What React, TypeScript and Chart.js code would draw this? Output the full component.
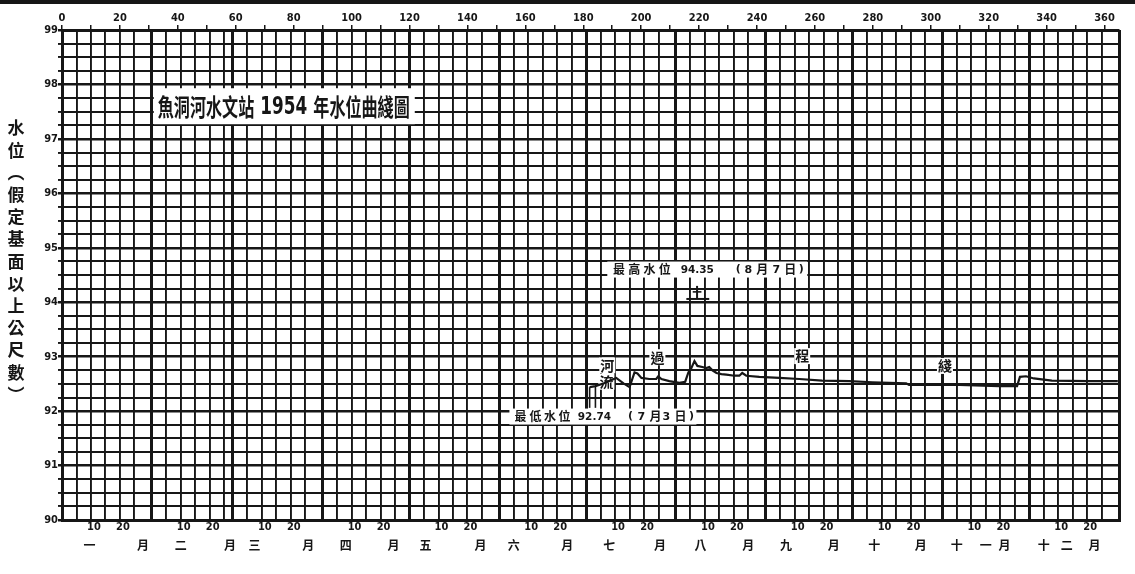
import React, { useEffect, useRef } from 'react';
import { Chart, registerables } from 'chart.js';

Chart.register(...registerables);

// ---------- data ----------
const monthStarts = [0, 31, 59, 90, 120, 151, 181, 212, 243, 273, 304, 334, 365];
const monthNames = ['一', '二', '三', '四', '五', '六', '七', '八', '九', '十', '十一', '十二'];
const topTickLabels = ['0', '20', '40', '60', '80', '100', '120', '140', '160', '180', '200', '220', '240', '260', '280', '300', '320', '340', '360'];
const yTickLabels = ['90', '91', '92', '93', '94', '95', '96', '97', '98', '99'];
const dayTickLabels = ['10', '20'];

// day of year (0 = 1 Jan) and water level (m)
const levelDays = [182.2, 184.2, 187.7, 189.7, 191.4, 193.9, 196.0, 197.7, 198.7, 200.1, 202.8, 205.2, 205.9, 207.0, 209.7, 213.2, 215.2, 216.3, 217.3, 218.4, 219.4, 221.1, 222.5, 223.5, 224.6, 226.0, 227.7, 229.4, 232.2, 233.9, 234.9, 236.3, 240.8, 247.7, 254.6, 262.5, 271.8, 279.8, 291.5, 292.5, 309.8, 323.6, 329.8, 330.8, 332.9, 335.6, 341.8, 354.6, 364.6];
const levelValues = [92.44, 92.46, 92.52, 92.57, 92.61, 92.51, 92.44, 92.71, 92.69, 92.61, 92.59, 92.59, 92.64, 92.59, 92.55, 92.52, 92.54, 92.71, 92.79, 92.92, 92.83, 92.81, 92.79, 92.81, 92.75, 92.7, 92.68, 92.67, 92.65, 92.65, 92.7, 92.65, 92.63, 92.61, 92.59, 92.56, 92.55, 92.53, 92.51, 92.48, 92.48, 92.46, 92.46, 92.63, 92.64, 92.6, 92.56, 92.55, 92.55];

const lowLeaderADays = [182.2, 182.2];
const lowLeaderAValues = [92.06, 92.44];
const lowLeaderBDays = [184.2, 184.2];
const lowLeaderBValues = [92.06, 92.46];

const peakBarDays = [215.6, 223.5];
const peakBarValues = [94.06, 94.06];
const peakStemDays = [219.3, 219.3];
const peakStemValues = [94.06, 94.3];
const peakCrossDays = [217.8, 220.8];
const peakCrossValues = [94.19, 94.19];

const titleParts = ['魚洞河水文站', '1954', '年水位曲綫圖'];
const titleDay = 31;
const titleLevel = 97.6;

const yAxisTitle = ['水', '位', '︵', '假', '定', '基', '面', '以', '上', '公', '尺', '數', '︶'];

const highLabel = { name: '最高水位', value: '94.35', month: '8', day: '7' };
const highLabelDay = 188.3;
const highLabelLevel = 94.6;
const lowLabel = { name: '最低水位', value: '92.74', month: '7', day: '3' };
const lowLabelDay = 154.5;
const lowLabelLevel = 91.9;

const curveChars = ['河', '流', '過', '程', '綫'];
const curveCharDays = [188.3, 188.0, 205.6, 255.6, 304.9];
const curveCharValues = [92.84, 92.54, 92.99, 93.01, 92.83];

// ---------- styling / layout ----------
const CJK = "'Noto Sans CJK TC', 'Noto Sans CJK SC', sans-serif";
const NUM = "'DejaVu Sans Condensed', 'DejaVu Sans', sans-serif";
const INK = '#161616';

// where (in days after the month's start) the month name glyphs sit
const monthNameOffsets = [[9.5], [10], [7.5], [8], [5.5], [5], [8], [8.5], [7], [7.5], [5, 15], [5, 13]];
const monthYueOffsets = [28, 27, 26, 24.5, 24.5, 23.5, 25.5, 25, 23.5, 23.5, 21.5, 22.5];

type Lbl = { name: string; value: string; month: string; day: string };
type Lay = { names: number[]; value: number; open: number; month: number; yue: number; day: number; ri: number; close: number; width: number };

function drawLabelBox(ctx: CanvasRenderingContext2D, left: number, yc: number, lbl: Lbl, layout: Lay) {
  ctx.fillStyle = INK;
  ctx.textAlign = 'center';
  ctx.textBaseline = 'middle';
  ctx.font = `bold 12px ${CJK}`;
  lbl.name.split('').forEach((c, i) => ctx.fillText(c, left + layout.names[i], yc));
  ctx.font = `bold 10.5px 'DejaVu Sans', sans-serif`;
  ctx.fillText(lbl.value, left + layout.value, yc + 1);
  ctx.font = `bold 11px 'DejaVu Sans', sans-serif`;
  ctx.fillText('(', left + layout.open, yc);
  ctx.fillText(lbl.month, left + layout.month, yc + 1);
  ctx.fillText(lbl.day, left + layout.day, yc + 1);
  ctx.fillText(')', left + layout.close, yc);
  ctx.font = `bold 12px ${CJK}`;
  ctx.fillText('月', left + layout.yue, yc);
  ctx.fillText('日', left + layout.ri, yc);
}

const highLayout: Lay = { names: [11.6, 26.9, 42.1, 57.4], value: 90, open: 131, month: 141, yue: 155, day: 169, ri: 183, close: 194, width: 200 };
const lowLayout: Lay = { names: [11, 26, 40.5, 55], value: 85, open: 121, month: 132, yue: 146, day: 157, ri: 171, close: 182, width: 187 };

const TITLE_WIDTH = 252;

function titleMetrics(ctx: CanvasRenderingContext2D) {
  ctx.font = `bold 21px ${CJK}`;
  const w1 = ctx.measureText(titleParts[0]).width;
  const w3 = ctx.measureText(titleParts[2]).width;
  ctx.font = `bold 22px 'DejaVu Sans', sans-serif`;
  const w2 = ctx.measureText(titleParts[1]).width;
  const gap = 8;
  const natural = w1 + gap + w2 + gap + w3;
  return { w1, w2, w3, gap, sx: TITLE_WIDTH / natural };
}

const annotPlugin = {
  id: 'annot',
  beforeDraw(chart: any) {
    const ctx = chart.ctx as CanvasRenderingContext2D;
    ctx.save();
    ctx.fillStyle = '#ffffff';
    ctx.fillRect(0, 0, chart.width, chart.height);
    ctx.restore();
  },
  beforeDatasetsDraw(chart: any) {
    const ctx = chart.ctx as CanvasRenderingContext2D;
    const x = chart.scales.x;
    const y = chart.scales.y;
    ctx.save();
    ctx.fillStyle = '#ffffff';
    const tl = x.getPixelForValue(titleDay);
    const tc = y.getPixelForValue(titleLevel);
    ctx.fillRect(tl + 2, tc - 18, TITLE_WIDTH + 9, 36);
    const hl = x.getPixelForValue(highLabelDay);
    const hc = y.getPixelForValue(highLabelLevel);
    ctx.fillRect(hl, hc - 8, highLayout.width, 16);
    const ll = x.getPixelForValue(lowLabelDay);
    const lc = y.getPixelForValue(lowLabelLevel);
    ctx.fillRect(ll, lc - 8, lowLayout.width, 16);
    curveChars.forEach((c, i) => {
      const px = x.getPixelForValue(curveCharDays[i]);
      const py = y.getPixelForValue(curveCharValues[i]);
      ctx.fillRect(px - 8, py - 8, 16, 16);
    });
    ctx.restore();
  },
  afterDatasetsDraw(chart: any) {
    const ctx = chart.ctx as CanvasRenderingContext2D;
    const x = chart.scales.x;
    const y = chart.scales.y;
    ctx.save();
    ctx.fillStyle = INK;
    ctx.textBaseline = 'middle';
    ctx.textAlign = 'left';
    const tl = x.getPixelForValue(titleDay);
    const tc = y.getPixelForValue(titleLevel);
    const m = titleMetrics(ctx);
    ctx.save();
    ctx.translate(tl + 6, tc);
    ctx.scale(m.sx, 1.12);
    ctx.font = `bold 21px ${CJK}`;
    ctx.fillText(titleParts[0], 0, 1);
    ctx.font = `bold 22px 'DejaVu Sans', sans-serif`;
    ctx.fillText(titleParts[1], m.w1 + m.gap, 1);
    ctx.font = `bold 21px ${CJK}`;
    ctx.fillText(titleParts[2], m.w1 + m.gap + m.w2 + m.gap, 1);
    ctx.restore();
    drawLabelBox(ctx, x.getPixelForValue(highLabelDay), y.getPixelForValue(highLabelLevel), highLabel, highLayout);
    drawLabelBox(ctx, x.getPixelForValue(lowLabelDay), y.getPixelForValue(lowLabelLevel), lowLabel, lowLayout);
    ctx.textAlign = 'center';
    ctx.font = `bold 14px ${CJK}`;
    curveChars.forEach((c, i) => {
      ctx.fillText(c, x.getPixelForValue(curveCharDays[i]), y.getPixelForValue(curveCharValues[i]));
    });
    ctx.restore();
  },
  afterDraw(chart: any) {
    const ctx = chart.ctx as CanvasRenderingContext2D;
    const x = chart.scales.x;
    ctx.save();
    ctx.fillStyle = INK;
    ctx.textAlign = 'center';
    ctx.textBaseline = 'middle';
    ctx.font = `bold 17px ${CJK}`;
    yAxisTitle.forEach((c, i) => ctx.fillText(c, 16, 128 + i * 22.2));
    ctx.font = `bold 12px ${CJK}`;
    const my = 545;
    monthNames.forEach((name, mi) => {
      const s = monthStarts[mi];
      name.split('').forEach((ch, k) => {
        ctx.fillText(ch, x.getPixelForValue(s + monthNameOffsets[mi][k]), my);
      });
      ctx.fillText('月', x.getPixelForValue(s + monthYueOffsets[mi]), my);
    });
    ctx.fillRect(0, 0, chart.width, 4);
    ctx.restore();
  },
};

export default function App() {
  const ref = useRef<HTMLCanvasElement>(null);

  useEffect(() => {
    const canvas = ref.current;
    if (!canvas) return;

    const gridDays: number[] = [];
    for (let m = 0; m < 12; m++) {
      for (let o = 0; o <= 25; o += 5) gridDays.push(monthStarts[m] + o);
    }
    gridDays.push(365);
    const yTickValues: number[] = [];
    for (let i = 0; i <= 36; i++) yTickValues.push(90 + i * 0.25);
    const topTickValues: number[] = [];
    for (let d = 0; d <= 360; d += 10) topTickValues.push(d);

    const monthOf = (v: number) => {
      let m = 0;
      while (m < 11 && v >= monthStarts[m + 1]) m++;
      return m;
    };

    const line = (days: number[], vals: number[], width: number) => ({
      type: 'line' as const,
      data: days.map((d, i) => ({ x: d, y: vals[i] })),
      borderColor: INK,
      borderWidth: width,
      pointRadius: 0,
      fill: false,
      tension: 0,
      xAxisID: 'x',
      yAxisID: 'y',
    });

    const chart = new Chart(canvas, {
      type: 'line',
      data: {
        datasets: [
          line(levelDays, levelValues, 2.2),
          line(lowLeaderADays, lowLeaderAValues, 1.6),
          line(lowLeaderBDays, lowLeaderBValues, 1.6),
          line(peakBarDays, peakBarValues, 2),
          line(peakStemDays, peakStemValues, 2),
          line(peakCrossDays, peakCrossValues, 1.6),
        ] as any,
      },
      options: {
        animation: false,
        responsive: false,
        devicePixelRatio: 1,
        layout: { padding: { left: 0, right: 16, top: 0, bottom: 0 } },
        plugins: { legend: { display: false }, tooltip: { enabled: false }, title: { display: false } },
        scales: {
          x: {
            type: 'linear',
            position: 'bottom',
            min: 0,
            max: 365,
            afterBuildTicks: (s: any) => {
              s.ticks = gridDays.map((v) => ({ value: v }));
            },
            afterFit: (s: any) => {
              s.height = 54;
            },
            ticks: {
              autoSkip: false,
              maxRotation: 0,
              minRotation: 0,
              padding: 1,
              labelOffset: 3,
              color: INK,
              font: { family: NUM, size: 11, weight: 'bold' },
              callback: (v: any) => {
                const off = Number(v) - monthStarts[monthOf(Number(v))];
                if (off === 10) return dayTickLabels[0];
                if (off === 20) return dayTickLabels[1];
                return '';
              },
            },
            grid: {
              drawTicks: false,
              color: INK,
              lineWidth: (c: any) => (c.tick && monthStarts.includes(c.tick.value) ? 3 : 1.9),
            },
            border: { display: true, width: 3, color: INK },
          },
          xTop: {
            type: 'linear',
            position: 'top',
            min: 0,
            max: 365,
            afterBuildTicks: (s: any) => {
              s.ticks = topTickValues.map((v) => ({ value: v }));
            },
            afterFit: (s: any) => {
              s.height = 30;
            },
            ticks: {
              autoSkip: false,
              maxRotation: 0,
              minRotation: 0,
              padding: 0,
              color: INK,
              font: { family: NUM, size: 11, weight: 'bold' },
              callback: (v: any) => (Number(v) % 20 === 0 ? topTickLabels[Number(v) / 20] : ''),
            },
            grid: { drawOnChartArea: false, drawTicks: true, tickLength: 5, color: INK, lineWidth: 1.5 },
            border: { display: true, width: 3, color: INK },
          },
          y: {
            type: 'linear',
            position: 'left',
            min: 90,
            max: 99,
            afterBuildTicks: (s: any) => {
              s.ticks = yTickValues.map((v) => ({ value: v }));
            },
            afterFit: (s: any) => {
              s.width = 62;
            },
            ticks: {
              autoSkip: false,
              padding: 0,
              color: INK,
              font: { family: NUM, size: 11, weight: 'bold' },
              callback: (v: any) => (Number.isInteger(Number(v)) ? yTickLabels[Number(v) - 90] : ''),
            },
            grid: {
              drawTicks: true,
              tickLength: 4,
              color: INK,
              lineWidth: (c: any) => (c.tick && Number.isInteger(c.tick.value) ? 2.5 : 1.9),
            },
            border: { display: true, width: 3, color: INK },
          },
        },
      } as any,
      plugins: [annotPlugin as any],
    });

    return () => chart.destroy();
  }, []);

  return (
    <div style={{ position: 'fixed', left: 0, top: 0, width: 1135, height: 574, background: '#fff' }}>
      <canvas ref={ref} width={1135} height={574} style={{ display: 'block' }} />
    </div>
  );
}
